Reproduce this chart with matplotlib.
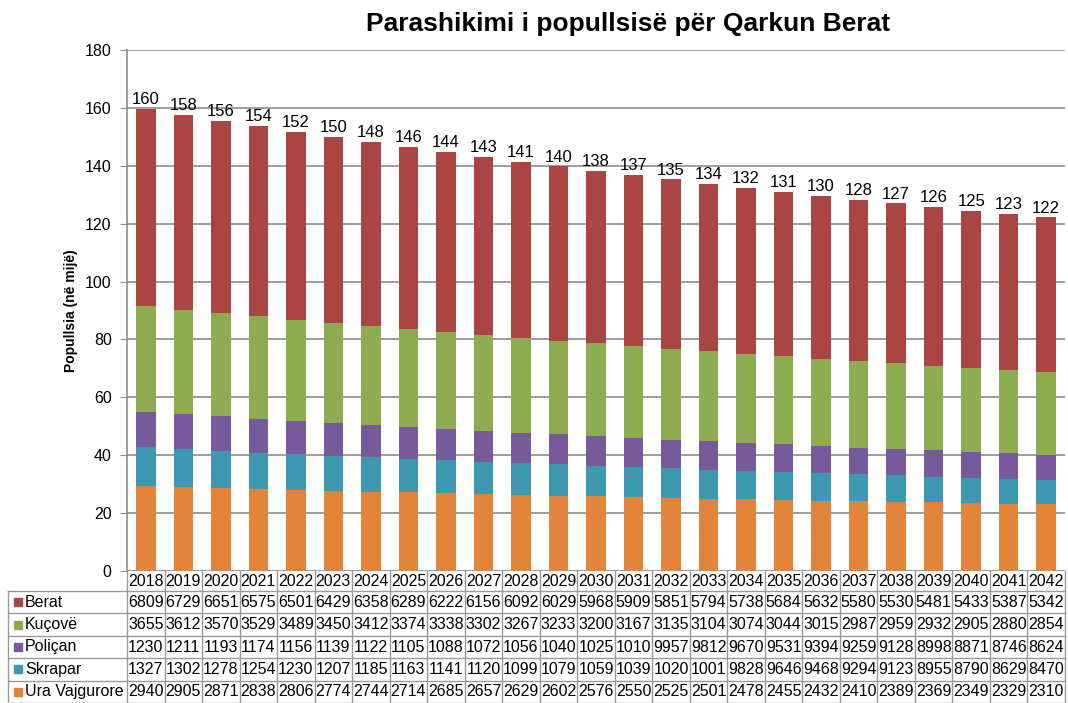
import matplotlib
matplotlib.use('Agg')
import matplotlib.pyplot as plt
import matplotlib.transforms as mtransforms
from matplotlib.patches import Rectangle
import numpy as np

plt.rcParams['font.family'] = ['Liberation Sans', 'DejaVu Sans']

years = [str(y) for y in range(2018, 2043)]
series_names = ['Berat', 'Kuçovë', 'Poliçan', 'Skrapar', 'Ura Vajgurore']

# population (persons); the table in the picture shows the first 4 digits only
berat = [68090, 67290, 66510, 65750, 65010, 64290, 63580, 62890, 62220, 61560, 60920, 60290, 59680,
         59090, 58510, 57940, 57380, 56840, 56320, 55800, 55300, 54810, 54330, 53870, 53420]
kucove = [36550, 36120, 35700, 35290, 34890, 34500, 34120, 33740, 33380, 33020, 32670, 32330, 32000,
          31670, 31350, 31040, 30740, 30440, 30150, 29870, 29590, 29320, 29050, 28800, 28540]
polican = [12300, 12110, 11930, 11740, 11560, 11390, 11220, 11050, 10880, 10720, 10560, 10400, 10250,
           10100, 9957, 9812, 9670, 9531, 9394, 9259, 9128, 8998, 8871, 8746, 8624]
skrapar = [13270, 13020, 12780, 12540, 12300, 12070, 11850, 11630, 11410, 11200, 10990, 10790, 10590,
           10390, 10200, 10010, 9828, 9646, 9468, 9294, 9123, 8955, 8790, 8629, 8470]
ura = [29400, 29050, 28710, 28380, 28060, 27740, 27440, 27140, 26850, 26570, 26290, 26020, 25760,
       25500, 25250, 25010, 24780, 24550, 24320, 24100, 23890, 23690, 23490, 23290, 23100]

# total labels as printed above the bars (thousands)
totals = [160, 158, 156, 154, 152, 150, 148, 146, 144, 143, 141, 140, 138,
          137, 135, 134, 132, 131, 130, 128, 127, 126, 125, 123, 122]

colors = {'Berat': '#AA4543', 'Kuçovë': '#8DAC4F', 'Poliçan': '#765A9B',
          'Skrapar': '#3E98B0', 'Ura Vajgurore': '#E2843A'}

data = {'Berat': berat, 'Kuçovë': kucove, 'Poliçan': polican, 'Skrapar': skrapar, 'Ura Vajgurore': ura}

fig = plt.figure(figsize=(10.68, 7.03), dpi=100)
ax = fig.add_axes([127/1068, 1-571/703, 938/1068, 521/703])

x = np.arange(len(years))
bottom = np.zeros(len(years))
# stack from the bottom: Ura, Skrapar, Poliçan, Kuçovë, Berat
for name in series_names[::-1]:
    vals = np.array(data[name]) / 1000.0
    ax.bar(x, vals, 0.52, bottom=bottom, color=colors[name], zorder=3)
    bottom += vals

for i, t in enumerate(bottom):
    ax.text(i, t + 0.6, '%d' % totals[i], ha='center', va='bottom', fontsize=12)

ax.set_xlim(-0.5, len(years) - 0.5)
ax.set_ylim(0, 180)
ax.set_yticks(range(0, 181, 20))
ax.tick_params(axis='y', labelsize=11.5, length=5, color='#8c8c8c', pad=6)
ax.tick_params(axis='x', bottom=False, labelbottom=False)
ax.grid(axis='y', color='#8c8c8c', linewidth=1.2, zorder=0)
for s in ['top', 'right', 'bottom']:
    ax.spines[s].set_visible(False)
ax.spines['left'].set_color('#8c8c8c')
ax.spines['left'].set_linewidth(1.2)
ax.set_ylabel('Popullsia (në mijë)', fontsize=10, fontweight='bold', labelpad=5)

fig.text(628/1068, 1-24/703, 'Parashikimi i popullsisë për Qarkun Berat', ha='center', va='center',
         fontsize=19, fontweight='bold')

# data table below the chart
trans = mtransforms.blended_transform_factory(ax.transData, ax.transAxes)
px = 1.0 / 521
hdr_h = 20 * px
row_h = 22.4 * px
line_kw = dict(color='#9a9a9a', linewidth=1, clip_on=False, transform=trans)
ftrans = mtransforms.blended_transform_factory(fig.transFigure, ax.transAxes)

top = 0
y_hdr = top - hdr_h
y_end = y_hdr - row_h * len(series_names)
# vertical lines between columns
for i in range(len(years) + 1):
    ax.plot([i - 0.5, i - 0.5], [top, y_end], **line_kw)
# horizontal lines
ax.plot([-0.5, len(years) - 0.5], [y_hdr, y_hdr], **line_kw)
for r in range(1, len(series_names) + 1):
    yy = y_hdr - r * row_h
    ax.plot([-0.5, len(years) - 0.5], [yy, yy], **line_kw)
# label column lines
lx0 = 8 / 1068
lx1 = 127 / 1068
lk = dict(color='#9a9a9a', linewidth=1, clip_on=False, transform=ftrans)
ax.plot([lx0, lx1], [y_hdr, y_hdr], **lk)
ax.plot([lx0, lx0], [y_hdr, y_end], **lk)
for r in range(1, len(series_names) + 1):
    yy = y_hdr - r * row_h
    ax.plot([lx0, lx1], [yy, yy], **lk)

for i, yr in enumerate(years):
    ax.text(i, top - hdr_h / 2, yr, ha='center', va='center', fontsize=11.5, transform=trans, clip_on=False)

for r, name in enumerate(series_names):
    yc = y_hdr - (r + 0.5) * row_h
    for i, v in enumerate(data[name]):
        ax.text(i, yc, str(v)[:4], ha='center', va='center', fontsize=11.5, transform=trans, clip_on=False)
    ax.add_patch(Rectangle((14 / 1068, yc - 4 * px), 8 / 1068, 8 * px, color=colors[name],
                           transform=ftrans, clip_on=False))
    ax.text(25 / 1068, yc, name, ha='left', va='center', fontsize=11.5, transform=ftrans, clip_on=False)

fig.savefig('out.png', dpi=100)
